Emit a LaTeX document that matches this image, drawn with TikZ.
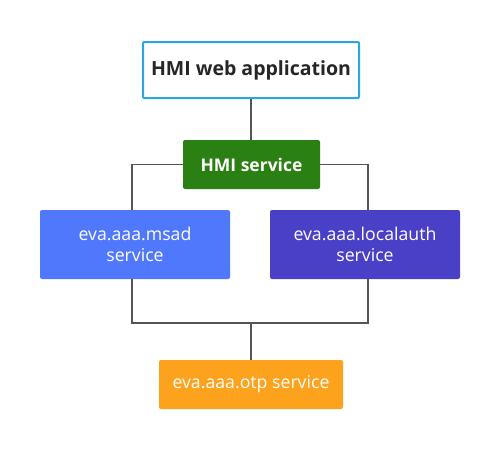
\documentclass[tikz,border=0pt]{standalone}
\usepackage{fontspec}
\setmainfont{Open Sans}
\usetikzlibrary{positioning}

\definecolor{appblue}{HTML}{29A8E0}
\definecolor{hmigreen}{HTML}{2A8013}
\definecolor{msadblue}{HTML}{5078FD}
\definecolor{localviolet}{HTML}{4A40C8}
\definecolor{otporange}{HTML}{FDA21C}
\definecolor{wire}{HTML}{555555}

\begin{document}
\begin{tikzpicture}[
  x=1pt, y=-1pt,
  box/.style={rounded corners=2pt, inner sep=0pt, align=center, text=white,
    font=\fontsize{17.7}{20.5}\selectfont},
  app/.style={draw=appblue, line width=2pt, fill=white, rounded corners=1pt,
    minimum width=216pt, minimum height=56pt, text=black!85,
    font=\fontsize{19.5}{22}\selectfont\bfseries},
  svc/.style={box, fill=hmigreen, minimum width=137pt, minimum height=49pt,
    font=\fontsize{17.5}{21}\selectfont\bfseries},
  auth/.style={box, minimum width=190pt, minimum height=69pt},
  otp/.style={box, fill=otporange, minimum width=184pt, minimum height=49pt},
  wire/.style={draw=wire, line width=1.6pt}
]
\useasboundingbox (0,0) rectangle (500,450);

\node[app] (web) at (251,70) {HMI web application};
\node[svc] (hmi) at (251.5,164.5) {HMI service};
\node[auth, fill=msadblue] (msad) at (135,244.5) {eva.aaa.msad\\service};
\node[auth, fill=localviolet] (local) at (365,244.5) {eva.aaa.localauth\\service};
\node[otp] (otp) at (251,384.5) {eva.aaa.otp service};
\coordinate (merge) at (251,323);

% upper links
\path[wire] (web) -- (web |- hmi.north);
\path[wire] (hmi.west) -| ([xshift=-3pt]msad.north);
\path[wire] (hmi.east) -| ([xshift=3pt]local.north);

% lower links
\path[wire] ([xshift=-3pt]msad.south) |- (merge) -| ([xshift=3pt]local.south);
\path[wire] (merge) -- (otp.north);

\end{tikzpicture}
\end{document}
